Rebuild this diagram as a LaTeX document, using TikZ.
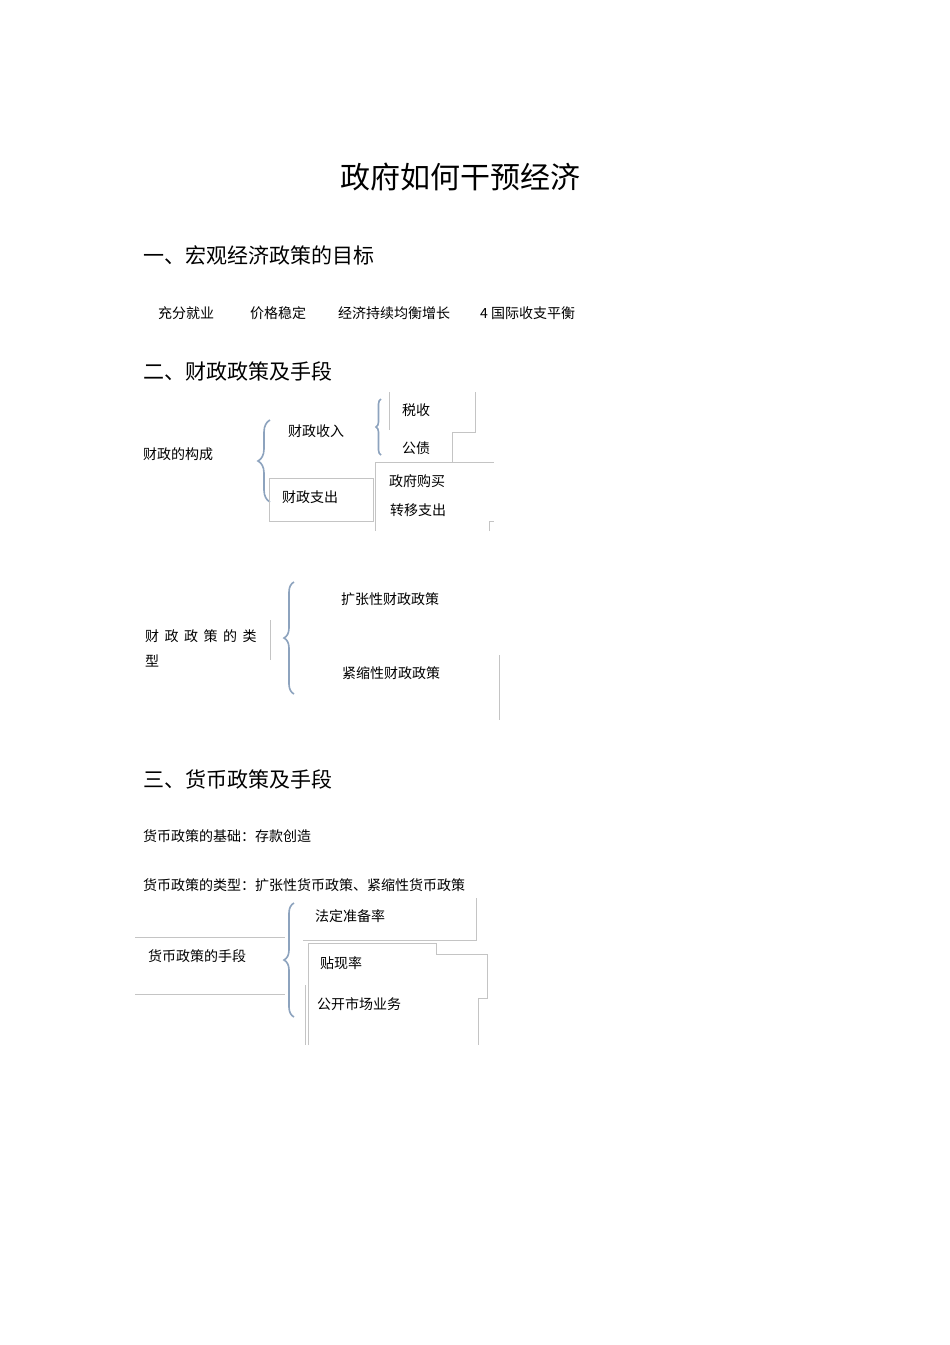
\documentclass[tikz,border=0pt]{standalone}
\usepackage{fontspec}
\setmainfont{Liberation Serif}
\newfontfamily\cjk{Noto Sans CJK SC}
\usetikzlibrary{decorations.pathreplacing}
\definecolor{br}{HTML}{8DA3BE}
\definecolor{ln}{HTML}{C4C4C4}
\tikzset{
 t/.style={anchor=west,inner sep=0pt,font=\cjk\fontsize{14}{14}\selectfont},
 h/.style={anchor=west,inner sep=0pt,font=\cjk\fontsize{21}{21}\selectfont},
 brc/.style={draw=br,line width=1.6pt,decorate,decoration={brace,amplitude=#1}},
 gl/.style={draw=ln,line width=0.8pt}
}
\begin{document}
\begin{tikzpicture}[x=1pt,y=-1pt]
\useasboundingbox[fill=white] (0,0) rectangle (950,1345);
\node[inner sep=0pt,font=\cjk\fontsize{30}{30}\selectfont] (title) at (460,177) {政府如何干预经济};
\node[h] (h1) at (143,255) {一、宏观经济政策的目标};
\node[t] (g1) at (158,313) {充分就业};
\node[t] (g2) at (250,313) {价格稳定};
\node[t] (g3) at (338,313) {经济持续均衡增长};
\node[t] (g4) at (480,313) {4 国际收支平衡};
\node[h] (h2) at (143,371) {二、财政政策及手段};
\node[t] (a0) at (143,454) {财政的构成};
\draw[brc=12pt] (270,502) -- (270,420);
\node[t] (a1) at (288,431) {财政收入};
\draw[brc=5pt] (381,455) -- (381,399);
\node[t] (a11) at (402,410) {税收};
\node[t] (a12) at (402,448) {公债};
\draw[gl] (389,392) -- (389,430);
\draw[gl] (475,392) -- (475,432) -- (452,432) -- (452,462) -- (494,462);
\draw[gl] (375,462) -- (452,462);
\draw[gl] (375,462) -- (375,531);
\draw[gl] (269,478) rectangle (373,521);
\node[t] (a2) at (282,497) {财政支出};
\node[t] (a21) at (389,481) {政府购买};
\node[t] (a22) at (390,510) {转移支出};
\draw[gl] (489,531) -- (489,521) -- (494,521);
\node[t] (b0) at (145,636) {财\hspace{5.5pt}政\hspace{5.5pt}政\hspace{5.5pt}策\hspace{5.5pt}的\hspace{5.5pt}类};
\node[t] (b0b) at (145,661) {型};
\draw[gl] (270,620) -- (270,660);
\draw[brc=10pt] (294,694) -- (294,582);
\node[t] (b1) at (341,599) {扩张性财政政策};
\node[t] (b2) at (342,673) {紧缩性财政政策};
\draw[gl] (499,655) -- (499,720);
\node[h] (h3) at (143,779) {三、货币政策及手段};
\node[t] (m1) at (143,836) {货币政策的基础：存款创造};
\node[t] (m2) at (143,885) {货币政策的类型：扩张性货币政策、紧缩性货币政策};
\draw[gl] (135,937) -- (285,937);
\draw[gl] (135,994) -- (285,994);
\node[t] (c0) at (148,956) {货币政策的手段};
\draw[brc=10pt] (294,1017) -- (294,903);
\node[t] (c1) at (315,916) {法定准备率};
\draw[gl] (476,898) -- (476,940) -- (303,940);
\draw[gl] (308,1045) -- (308,943) -- (436,943) -- (436,954) -- (487,954) -- (487,998) -- (478,998) -- (478,1045);
\draw[gl] (305,985) -- (305,1045);
\node[t] (c2) at (320,963) {贴现率};
\node[t] (c3) at (317,1004) {公开市场业务};
\end{tikzpicture}
\end{document}
